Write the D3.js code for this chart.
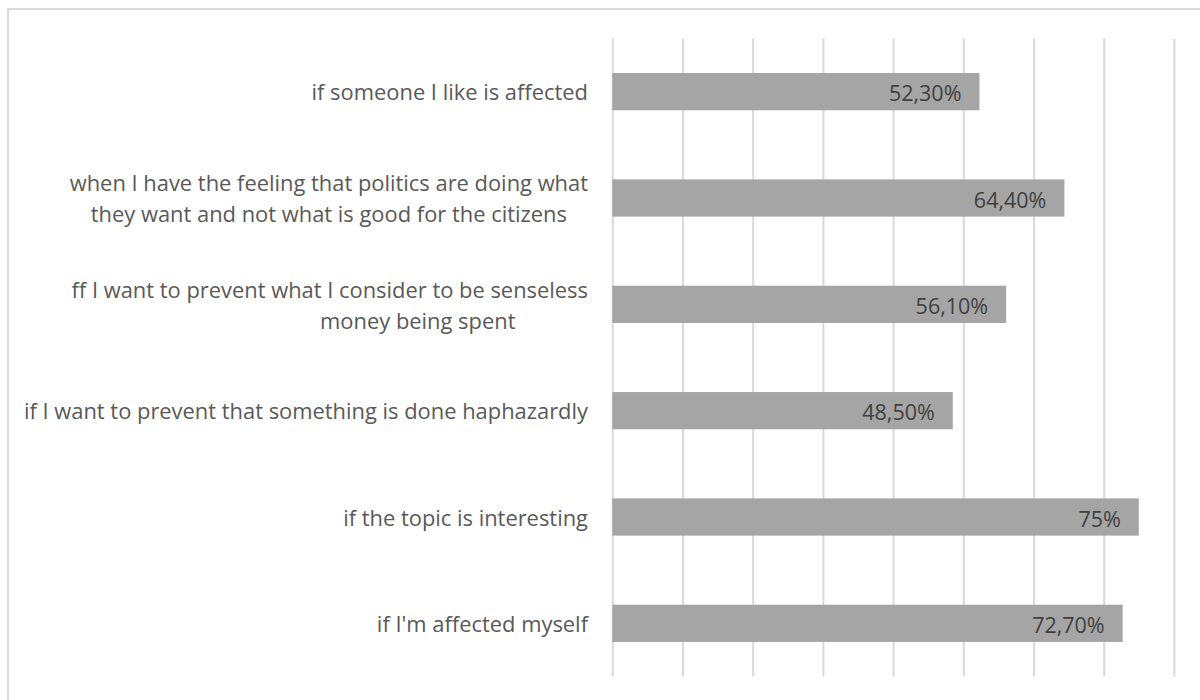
<!DOCTYPE html>
<html><head><meta charset="utf-8">
<script src="https://cdn.jsdelivr.net/npm/d3@7"></script>
<style>body{margin:0;background:#fff}svg{display:block}</style>
</head><body><svg id="c" width="1200" height="700"></svg>
<script>
const categories = [
  ["if someone I like is affected"],
  ["when I have the feeling that politics are doing what", "they want and not what is good for the citizens"],
  ["ff I want to prevent what I consider to be senseless", "money being spent"],
  ["if I want to prevent that something is done haphazardly"],
  ["if the topic is interesting"],
  ["if I'm affected myself"]
];
const values = [0.523, 0.644, 0.561, 0.485, 0.75, 0.727];
const valueLabels = ["52,30%", "64,40%", "56,10%", "48,50%", "75%", "72,70%"];
const gridTicks = [0, 0.1, 0.2, 0.3, 0.4, 0.5, 0.6, 0.7, 0.8];

const svg = d3.select("#c");
const font = "'Open Sans', 'Noto Sans', sans-serif";
svg.append("path").attr("d","M8,1200 V9 H1200").attr("fill","none").attr("stroke","#d9d9d9").attr("stroke-width",2);

const x = d3.scaleLinear().domain([0, 0.8]).range([612.3, 1173.9]);
const y = d3.scaleBand().domain(d3.range(categories.length)).range([38.5, 676.5]).paddingInner(0.65).paddingOuter(0.325);

const xAxis = d3.axisBottom(x).tickValues(gridTicks).tickSize(-(676.5-38.5)).tickFormat("");
const gx = svg.append("g").attr("transform","translate(0,676.5)").call(xAxis);
gx.select(".domain").remove();
gx.selectAll(".tick line").attr("stroke","#d9d9d9").attr("stroke-width",2);

svg.append("g").selectAll("rect").data(values).join("rect")
  .attr("x", x(0)).attr("y", (d,i)=>y(i)).attr("width", d=>x(d)-x(0)).attr("height", y.bandwidth())
  .attr("fill","#a5a5a5");

svg.append("g").selectAll("text").data(values).join("text")
  .attr("x", d=>x(d)-18).attr("y", (d,i)=>y(i)+y.bandwidth()/2).attr("dy","0.45em")
  .attr("text-anchor","end").attr("font-family",font).attr("font-size",21.5).attr("fill","#404040")
  .text((d,i)=>valueLabels[i]);

const labelRight = 588, lh = 31;
const lab = svg.append("g").selectAll("text").data(categories).join("text")
  .attr("font-family",font).attr("font-size",21.9).attr("fill","#595959");
lab.each(function(lines,i){
  const t = d3.select(this);
  const cy = y(i)+y.bandwidth()/2;
  if (lines.length === 1) {
    t.attr("text-anchor","end").append("tspan").attr("x",labelRight).attr("y",cy).attr("dy","0.4em").text(lines[0]);
    return;
  }
  const first = t.append("tspan").attr("text-anchor","end").attr("x",labelRight)
    .attr("y", cy - lh/2).attr("dy","0.4em").text(lines[0]);
  const w = first.node().getComputedTextLength();
  const center = labelRight - w/2;
  const shift = i === 2 ? 88 : 0;
  t.append("tspan").attr("text-anchor","middle").attr("x", center + shift)
    .attr("y", cy + lh/2).attr("dy","0.4em").text(lines[1]);
});
</script></body></html>
